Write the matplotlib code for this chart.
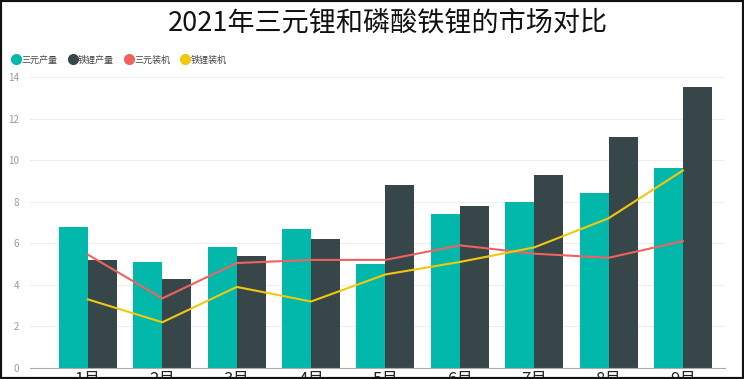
import matplotlib
matplotlib.use("Agg")
import matplotlib.pyplot as plt
from matplotlib.lines import Line2D
from matplotlib.patches import Rectangle
import numpy as np

plt.rcParams['font.family'] = ['Noto Sans CJK SC', 'DejaVu Sans']

months = ['1月', '2月', '3月', '4月', '5月', '6月', '7月', '8月', '9月']
ternary_output = [6.8, 5.1, 5.8, 6.7, 5.0, 7.4, 8.0, 8.4, 9.6]
lfp_output = [5.2, 4.3, 5.4, 6.2, 8.8, 7.8, 9.3, 11.1, 13.5]
ternary_install = [5.45, 3.35, 5.05, 5.2, 5.2, 5.9, 5.5, 5.3, 6.1]
lfp_install = [3.3, 2.2, 3.9, 3.2, 4.5, 5.1, 5.8, 7.2, 9.5]
series_names = ['三元产量', '铁锂产量', '三元装机', '铁锂装机']

c_teal = '#01B8AA'
c_dark = '#374649'
c_red = '#F0625E'
c_yellow = '#F2C80F'

fig = plt.figure(figsize=(7.44, 3.79), dpi=100)
ax = fig.add_axes([0.0403, 0.029, 0.934, 0.768])

x = np.arange(len(months))
w = 0.39
ax.bar(x - w / 2, ternary_output, w, color=c_teal, zorder=2)
ax.bar(x + w / 2, lfp_output, w, color=c_dark, zorder=2)
ax.plot(x, ternary_install, color=c_red, lw=1.5, zorder=3)
ax.plot(x, lfp_install, color=c_yellow, lw=1.5, zorder=3)

ax.set_xlim(-0.78, 8.565)
ax.set_ylim(0, 14)
ax.set_yticks(range(0, 15, 2))
ax.grid(axis='y', color='#eeeeee', lw=0.8, zorder=0)
ax.set_axisbelow(True)
for s in ['top', 'right', 'left']:
    ax.spines[s].set_visible(False)
ax.spines['bottom'].set_color('#aaaaaa')
ax.tick_params(axis='y', length=0, labelsize=7, labelcolor='#999999', pad=8)
ax.tick_params(axis='x', length=0, labelsize=12, labelcolor='#222222', pad=2)
ax.set_xticks(x)
ax.set_xticklabels(months)

fig.text(0.522, 0.94, '2021年三元锂和磷酸铁锂的市场对比', ha='center', va='center',
         fontsize=19.5, color='#111111')

handles = [Line2D([], [], ls='', marker='o', ms=7, color=c) for c in [c_teal, c_dark, c_red, c_yellow]]
fig.legend(handles, series_names, loc='upper left', bbox_to_anchor=(0.005, 0.875),
           ncol=4, frameon=False, fontsize=6.5, handletextpad=0.05, columnspacing=1.2,
           handlelength=1.0, labelcolor='#444444')

fig.patches.append(Rectangle((0, 0), 1, 1, transform=fig.transFigure, fill=False,
                             edgecolor='#111111', lw=3, zorder=10))

fig.savefig('out.png', dpi=100)
